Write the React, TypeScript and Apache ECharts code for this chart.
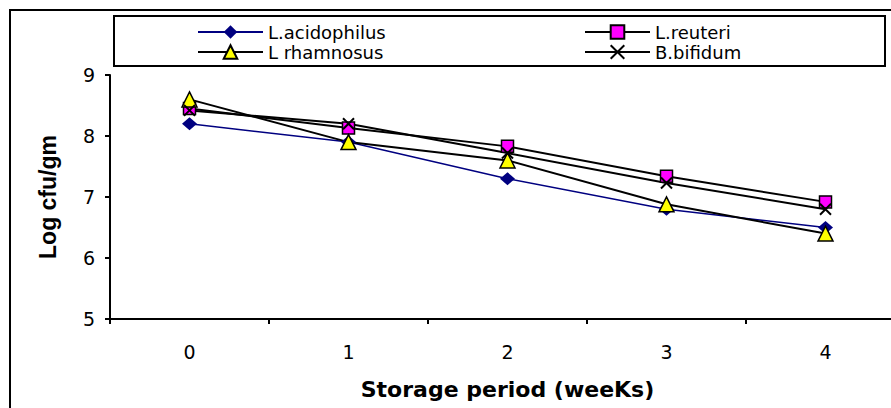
import React, { useEffect, useRef } from 'react';
import * as echarts from 'echarts';

const weeks = ['0', '1', '2', '3', '4'];
const acidophilus = [8.2, 7.9, 7.3, 6.8, 6.5];
const reuteri = [8.45, 8.13, 7.83, 7.34, 6.92];
const rhamnosus = [8.6, 7.9, 7.6, 6.88, 6.4];
const bifidum = [8.42, 8.2, 7.72, 7.23, 6.8];
const yMin = 5;
const yMax = 9;
const yStep = 1;

const FONT = 'DejaVu Sans';

export default function App() {
  const ref = useRef<HTMLDivElement>(null);
  useEffect(() => {
    if (!ref.current) return;
    const chart = echarts.init(ref.current, undefined, { renderer: 'svg' });
    const legendBase = {
      orient: 'horizontal',
      padding: 0,
      itemWidth: 65,
      itemHeight: 17,
      itemGap: 0,
      z: 10,
      textStyle: { fontFamily: FONT, fontSize: 18, color: '#000', lineHeight: 18 },
    };
    chart.setOption({
      animation: false,
      backgroundColor: '#fff',
      graphic: [
        {
          type: 'rect',
          z: 0,
          shape: { x: 10, y: 10, width: 1000, height: 1000 },
          style: { fill: 'none', stroke: '#000', lineWidth: 2 },
        },
        {
          type: 'rect',
          z: 1,
          shape: { x: 114, y: 16, width: 771, height: 50 },
          style: { fill: '#fff', stroke: '#000', lineWidth: 2 },
        },
      ],
      legend: [
        { ...legendBase, data: ['L.acidophilus'], left: 197, top: 23 },
        { ...legendBase, data: ['L.reuteri'], left: 584, top: 23 },
        { ...legendBase, data: ['L rhamnosus'], left: 197, top: 43 },
        { ...legendBase, data: ['B.bifidum'], left: 584, top: 43 },
      ],
      grid: {
        left: 110,
        top: 75,
        height: 244,
        width: 795,
        containLabel: false,
        outerBoundsMode: 'none',
      },
      xAxis: {
        type: 'category',
        data: weeks,
        boundaryGap: true,
        axisLine: { show: true, lineStyle: { color: '#000', width: 2 } },
        axisTick: { show: true, length: 5, lineStyle: { color: '#000', width: 2 } },
        axisLabel: { fontFamily: FONT, fontSize: 19, color: '#000', margin: 23 },
        splitLine: { show: false },
        name: 'Storage period (weeKs)',
        nameLocation: 'middle',
        nameGap: 59,
        nameTextStyle: { fontFamily: FONT, fontSize: 22, fontWeight: 'bold', color: '#000' },
      },
      yAxis: {
        type: 'value',
        min: yMin,
        max: yMax,
        interval: yStep,
        axisLine: { show: true, lineStyle: { color: '#000', width: 2 } },
        axisTick: { show: true, length: 5, lineStyle: { color: '#000', width: 2 } },
        axisLabel: { fontFamily: FONT, fontSize: 19, color: '#000', margin: 15 },
        splitLine: { show: false },
        name: 'Log cfu/gm',
        nameLocation: 'middle',
        nameRotate: 90,
        nameGap: 51,
        nameTextStyle: { fontFamily: 'Liberation Sans', fontSize: 23, fontWeight: 'bold', color: '#000' },
      },
      series: [
        {
          name: 'L.acidophilus',
          type: 'line',
          data: acidophilus,
          symbol: 'diamond',
          symbolSize: [15, 13],
          lineStyle: { color: '#000080', width: 1.5 },
          itemStyle: { color: '#000080', borderColor: '#000080', borderWidth: 0 },
        },
        {
          name: 'L.reuteri',
          type: 'line',
          data: reuteri,
          symbol: 'rect',
          symbolSize: 12,
          lineStyle: { color: '#000', width: 2 },
          itemStyle: { color: '#ff00ff', borderColor: '#000', borderWidth: 1.5 },
        },
        {
          name: 'L rhamnosus',
          type: 'line',
          data: rhamnosus,
          symbol: 'triangle',
          symbolSize: 15,
          lineStyle: { color: '#000', width: 2 },
          itemStyle: { color: '#ffff00', borderColor: '#000', borderWidth: 1.5 },
        },
        {
          name: 'B.bifidum',
          type: 'line',
          data: bifidum,
          symbol: 'path://M0,0L10,10M0,10L10,0',
          symbolSize: 11,
          lineStyle: { color: '#000', width: 2 },
          itemStyle: { color: '#000', borderColor: '#000', borderWidth: 2 },
        },
      ],
    });
    return () => chart.dispose();
  }, []);
  return (
    <div
      ref={ref}
      style={{ position: 'fixed', left: 0, top: 0, width: 891, height: 408, background: '#fff' }}
    />
  );
}
